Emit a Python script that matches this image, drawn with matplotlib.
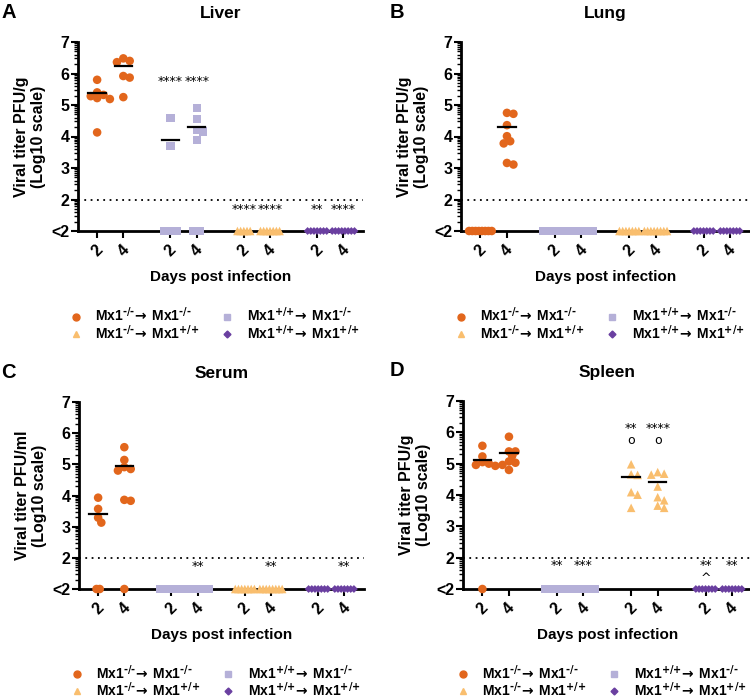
import numpy as np
import matplotlib
matplotlib.use("Agg")
import matplotlib.pyplot as plt
from matplotlib.lines import Line2D

plt.rcParams['font.family'] = ['Liberation Sans', 'DejaVu Sans']
plt.rcParams['font.weight'] = 'bold'
plt.rcParams['axes.titleweight'] = 'bold'
plt.rcParams['axes.labelweight'] = 'bold'
plt.rcParams['mathtext.default'] = 'regular'

# x positions of the 8 columns (day 2 / day 4 for each of 4 chimera groups)
xpos = [0, 1, 2.8, 3.8, 5.6, 6.6, 8.4, 9.4]
xticklabels = ['2', '4', '2', '4', '2', '4', '2', '4']

# group styles: KO->KO, WT->KO, KO->WT, WT->WT
colors = ['#E2661C', '#B5B0D8', '#F9BE6E', '#6A3FA0']
markers = ['o', 's', '^', 'D']
msizes = [38, 34, 38, 16]
donor = ['-/-', '+/+', '-/-', '+/+']
recipient = ['-/-', '-/-', '+/+', '+/+']
legend_labels = [r'Mx1$^{\text{%s}}\!\mathsf{\rightarrow}\,$Mx1$^{\text{%s}}$' % (d, r)
                 for d, r in zip(donor, recipient)]

LOD = 1.0  # "<2" plotted at 1

# values (log10 PFU), 1.0 = below detection "<2"
liver_vals = [
    [5.80, 5.40, 5.22, 5.19, 5.32, 5.28, 4.13],
    [6.48, 6.40, 6.36, 5.92, 5.87, 5.25],
    [4.59, 3.69, 1, 1, 1, 1, 1],
    [4.90, 4.56, 4.16, 4.22, 3.88, 1, 1, 1],
    [1, 1, 1, 1, 1],
    [1, 1, 1, 1, 1, 1, 1],
    [1, 1, 1, 1, 1, 1, 1],
    [1, 1, 1, 1, 1, 1, 1, 1],
]
liver_lines = [5.38, 6.25, 3.88, 4.29, None, None, None, None]

lung_vals = [
    [1, 1, 1, 1, 1, 1, 1, 1],
    [4.75, 4.72, 4.36, 4.01, 3.85, 3.78, 3.11, 3.16],
    [1, 1, 1, 1, 1, 1, 1, 1],
    [1, 1, 1, 1, 1, 1, 1, 1],
    [1, 1, 1, 1, 1, 1, 1],
    [1, 1, 1, 1, 1, 1, 1, 1],
    [1, 1, 1, 1, 1, 1, 1],
    [1, 1, 1, 1, 1, 1, 1],
]
lung_lines = [None, 4.29, None, None, None, None, None, None]

serum_vals = [
    [3.57, 3.93, 3.29, 3.13, 1, 1],
    [5.55, 5.14, 4.91, 4.85, 4.80, 3.86, 3.83, 1],
    [1, 1, 1, 1, 1, 1, 1, 1],
    [1, 1, 1, 1, 1, 1, 1, 1],
    [1, 1, 1, 1, 1, 1, 1],
    [1, 1, 1, 1, 1, 1, 1, 1],
    [1, 1, 1, 1, 1, 1, 1],
    [1, 1, 1, 1, 1, 1, 1],
]
serum_lines = [3.42, 4.95, None, None, None, None, None, None]

spleen_vals = [
    [5.57, 5.23, 5.00, 4.96, 4.93, 5.05, 1],
    [5.86, 5.39, 5.39, 5.25, 5.03, 5.07, 4.96, 4.80],
    [1, 1, 1, 1, 1, 1, 1, 1],
    [1, 1, 1, 1, 1, 1, 1, 1],
    [4.98, 4.64, 4.66, 4.09, 4.01, 3.59],
    [4.68, 4.65, 4.73, 4.27, 3.93, 3.83, 3.66, 3.59],
    [1, 1, 1, 1, 1, 1, 1],
    [1, 1, 1, 1, 1, 1, 1],
]
spleen_lines = [5.12, 5.33, None, None, 4.56, 4.40, None, None]

# significance marks: (column index, y value, text)
liver_marks = [(2, 5.75, '****'), (3, 5.75, '****'), (4, 1.68, '****'), (5, 1.68, '****'),
               (6, 1.68, '**'), (7, 1.68, '****')]
lung_marks = []
serum_marks = [(3, 1.72, '**'), (5, 1.72, '**'), (7, 1.72, '**')]
spleen_marks = [(2, 1.74, '**'), (3, 1.74, '***'), (4, 6.13, '**'), (4, 5.74, 'o'),
                (5, 6.13, '****'), (5, 5.74, 'o'), (6, 1.74, '**'), (6, 1.33, '^'),
                (7, 1.74, '**')]


def swarm(vals, xs_per_px=1/26.3, ys_per_px=1/31.5, d=8.0):
    # simple deterministic beeswarm in pixel space
    vals = np.asarray(vals, float)
    offs = np.zeros(len(vals))
    lod = vals <= LOD
    n = lod.sum()
    if n:
        offs[lod] = np.linspace(-(n - 1) * 1.6, (n - 1) * 1.6, n) * xs_per_px
    placed = []
    for i in np.argsort(-vals):
        if lod[i]:
            continue
        y = vals[i] / ys_per_px
        for k in [0, 1, -1, 2, -2, 3, -3, 4, -4]:
            x = k * d * 0.4
            if all((x - px) ** 2 + (y - py) ** 2 >= (d * 0.65) ** 2 for px, py in placed):
                break
        placed.append((x, y))
        offs[i] = x * xs_per_px
    return offs


def panel(rect, letter, title, ylabel, vals, lines, marks):
    ax = fig.add_axes(rect)
    for i, v in enumerate(vals):
        g = i // 2
        off = swarm(v)
        ax.scatter(xpos[i] + off, v, s=msizes[g], marker=markers[g], color=colors[g],
                   edgecolors='none', zorder=3, clip_on=False)
        if lines[i] is not None:
            ax.plot([xpos[i] - 0.33, xpos[i] + 0.33], [lines[i], lines[i]], color='black',
                    lw=1.6, zorder=4)
    for i, y, t in marks:
        ax.text(xpos[i], y, t, ha='center', va='center', fontsize=9, fontweight='normal',
                family='DejaVu Sans')
    ax.axhline(2, color='black', ls=(0, (1, 2.5)), lw=1.3, zorder=1)
    ax.set_xlim(-0.73, 10.15)
    ax.set_ylim(1, 7)
    ax.spines['top'].set_visible(False)
    ax.spines['right'].set_visible(False)
    ax.spines['left'].set_linewidth(2)
    ax.spines['bottom'].set_linewidth(2)
    ax.set_yticks([1, 2, 3, 4, 5, 6, 7])
    ax.set_yticklabels(['<2', '2', '3', '4', '5', '6', '7'])
    minor = [b + np.log10(k) for b in range(1, 7) for k in range(2, 10)]
    ax.set_yticks(minor, minor=True)
    ax.tick_params(axis='y', which='major', length=5, width=1.5, labelsize=11.5, pad=1)
    ax.tick_params(axis='y', which='minor', length=3, width=1)
    ax.set_xticks(xpos)
    ax.set_xticklabels(xticklabels, rotation=45, fontsize=11.5)
    ax.tick_params(axis='x', length=5, width=1.5, pad=3)
    ax.set_xlabel('Days post infection', fontsize=11, labelpad=8)
    ax.set_ylabel(ylabel, fontsize=11.5, labelpad=4)
    ax.set_title(title, fontsize=12.5, pad=17)
    top_px = (1 - rect[1] - rect[3]) * 699
    fig.text(0.002 + (rect[0] > 0.5) * 0.517, 1 - (top_px - 30) / 699, letter,
             fontsize=14.5, va='center', ha='left')
    handles = [Line2D([], [], ls='none', marker=markers[g], color=colors[g],
                      markersize=[5, 4.5, 5, 3.5][g]) for g in [0, 2, 1, 3]]
    labels = [legend_labels[g] for g in [0, 2, 1, 3]]
    ax.legend(handles, labels, ncol=2, loc='upper center', bbox_to_anchor=(0.475, -0.33),
              frameon=False, fontsize=10, handletextpad=0.8, columnspacing=1.4,
              labelspacing=-0.1, handlelength=1.2)
    return ax


fig = plt.figure(figsize=(7.5, 6.99), dpi=100)
W, H = 750, 699
panel([78 / W, 1 - 231 / H, 285 / W, 189 / H], 'A', 'Liver',
      'Viral titer PFU/g\n(Log10 scale)', liver_vals, liver_lines, liver_marks)
panel([461 / W, 1 - 231 / H, 289 / W, 189 / H], 'B', 'Lung',
      'Viral titer PFU/g\n(Log10 scale)', lung_vals, lung_lines, lung_marks)
panel([79 / W, 1 - 589 / H, 285 / W, 187 / H], 'C', 'Serum',
      'Viral titer PFU/ml\n(Log10 scale)', serum_vals, serum_lines, serum_marks)
panel([463 / W, 1 - 589 / H, 289 / W, 188 / H], 'D', 'Spleen',
      'Viral titer PFU/g\n(Log10 scale)', spleen_vals, spleen_lines, spleen_marks)

fig.savefig('out.png', dpi=100)
